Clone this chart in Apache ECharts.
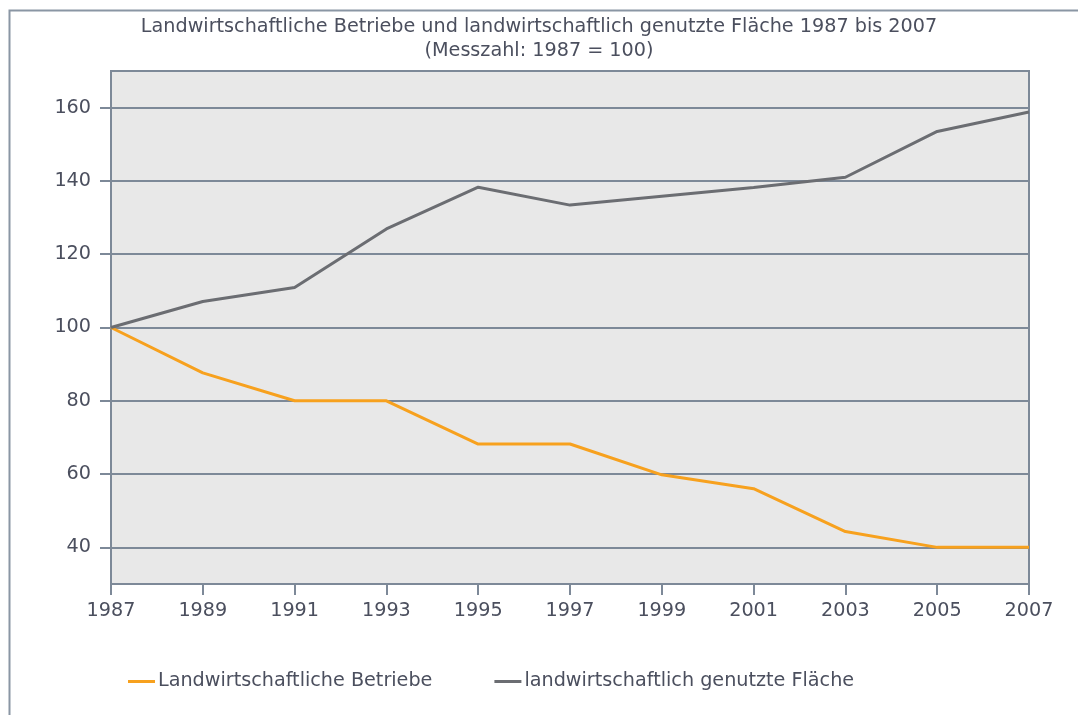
<!DOCTYPE html>
<html><head><meta charset="utf-8">
<script src="https://cdn.jsdelivr.net/npm/echarts@6/dist/echarts.min.js"></script>
<style>html,body{margin:0;padding:0;background:#fff}#c{width:1078px;height:715px}</style>
</head><body><div id="c"></div>
<script>
const years = ['1987','1989','1991','1993','1995','1997','1999','2001','2003','2005','2007'];
const betriebe = [100, 87.6, 80, 80, 68.2, 68.2, 59.8, 56, 44.3, 40, 40];
const flaeche = [100, 107.1, 110.9, 126.9, 138.3, 133.4, 135.8, 138.2, 141, 153.5, 158.8];
const yTicks = [40, 60, 80, 100, 120, 140, 160];
const titleText = 'Landwirtschaftliche Betriebe und landwirtschaftlich genutzte Fläche 1987 bis 2007\n(Messzahl: 1987 = 100)';
const seriesNames = ['Landwirtschaftliche Betriebe', 'landwirtschaftlich genutzte Fläche'];

const txt = '#4b4f5e';
const axisCol = '#7d8998';
const font = 'DejaVu Sans';
const fs = 19.2;
const chart = echarts.init(document.getElementById('c'), null, {renderer: 'canvas'});
chart.setOption({
  animation: false,
  backgroundColor: '#ffffff',
  textStyle: {fontFamily: font, color: txt},
  graphic: [{
    type: 'rect', left: 7, top: 8, z: -10,
    shape: {width: 1200, height: 800},
    style: {fill: 'none', stroke: '#8a96a4', lineWidth: 2}
  }],
  title: {
    text: titleText, left: 'center', top: 10,
    textStyle: {fontFamily: font, fontSize: fs, fontWeight: 'normal', color: txt, lineHeight: 24}
  },
  legend: {
    left: 123, top: 667, itemGap: 62, itemWidth: 27, itemHeight: 3, icon: 'rect',
    textStyle: {fontFamily: font, fontSize: fs, color: txt, padding: [0, 0, 0, -2]},
    data: seriesNames
  },
  grid: {left: 111, right: 49, top: 71, bottom: 131, show: true, backgroundColor: '#e8e8e8', borderColor: axisCol, borderWidth: 2},
  xAxis: {
    type: 'category', data: years, boundaryGap: false,
    axisLine: {lineStyle: {color: axisCol, width: 2}},
    axisTick: {show: true, length: 11, lineStyle: {color: axisCol, width: 2}},
    axisLabel: {fontFamily: font, fontSize: fs, color: txt, margin: 18},
    splitLine: {show: false}
  },
  yAxis: {
    type: 'value', min: 30, max: 170, interval: 10,
    axisLine: {show: true, lineStyle: {color: axisCol, width: 2}},
    axisTick: {show: true, length: 11, customValues: yTicks, lineStyle: {color: axisCol, width: 2}},
    axisLabel: {fontFamily: font, fontSize: fs, color: txt, margin: 20, customValues: yTicks},
    splitLine: {show: false}
  },
  series: [
    {
      name: seriesNames[0], type: 'line', data: betriebe, symbol: 'none',
      lineStyle: {color: '#f7a11e', width: 3}, itemStyle: {color: '#f7a11e'}, z: 3,
      markLine: {
        silent: true, symbol: 'none', label: {show: false}, z: 1,
        lineStyle: {color: axisCol, width: 2, type: 'solid'},
        data: yTicks.map(v => ({yAxis: v}))
      }
    },
    {
      name: seriesNames[1], type: 'line', data: flaeche, symbol: 'none',
      lineStyle: {color: '#6b6d72', width: 3}, itemStyle: {color: '#6b6d72'}, z: 3
    }
  ]
});
</script></body></html>
